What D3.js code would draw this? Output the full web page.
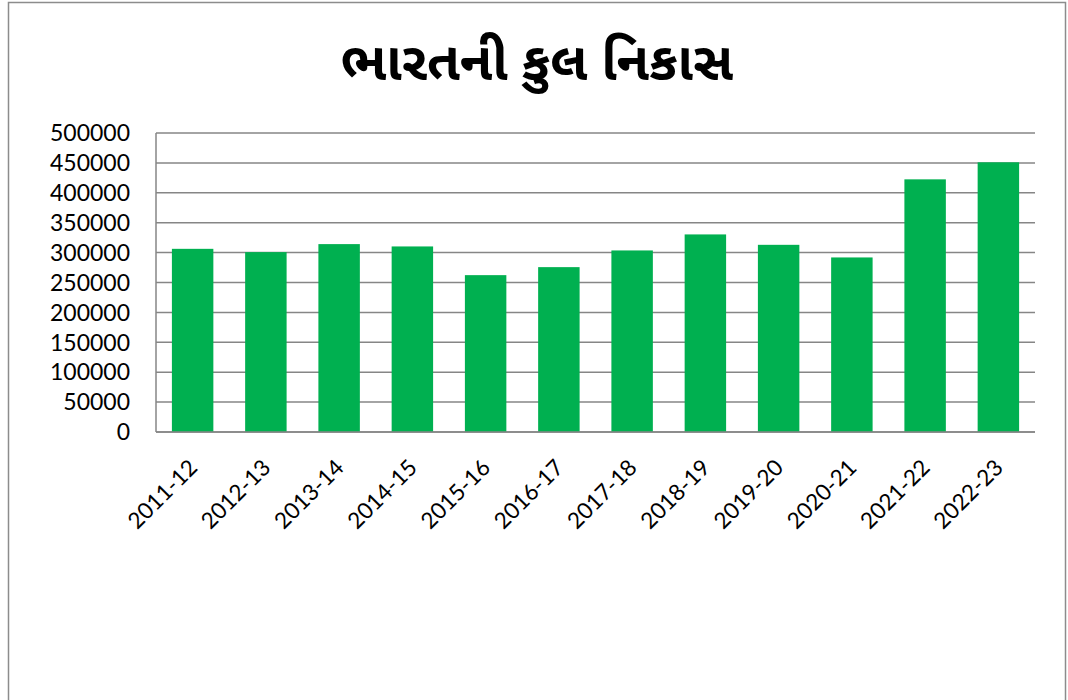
<!DOCTYPE html>
<html>
<head>
<meta charset="utf-8">
<script src="https://cdn.jsdelivr.net/npm/d3@7"></script>
<style>
  body { margin: 0; background: #fff; }
  svg { display: block; }
</style>
</head>
<body>
<svg id="chart" width="1068" height="700"></svg>
<script>
// data
const years = ["2011-12","2012-13","2013-14","2014-15","2015-16","2016-17",
               "2017-18","2018-19","2019-20","2020-21","2021-22","2022-23"];
const exportsTotal = [306300, 300800, 314200, 310300, 262300, 275700,
                      303600, 330400, 313000, 291900, 422500, 451000];
const yTicks = [0,50000,100000,150000,200000,250000,300000,350000,400000,450000,500000];
const title = "ભારતની કુલ નિકાસ";

const svg = d3.select("#chart");
const plotLeft = 156, plotRight = 1035, plotTop = 133, plotBottom = 432;

// outer chart frame
svg.append("rect")
    .attr("x", 8.5).attr("y", 2.5)
    .attr("width", 1057).attr("height", 710)
    .attr("fill", "none").attr("stroke", "#8c8c8c").attr("stroke-width", 1.5);

const x = d3.scaleBand()
    .domain(years)
    .range([plotLeft, plotRight])
    .paddingInner(0.434)
    .paddingOuter(0.217);

const y = d3.scaleLinear()
    .domain([0, 500000])
    .range([plotBottom, plotTop]);

// gridlines
svg.append("g")
    .selectAll("line")
    .data(yTicks)
    .join("line")
    .attr("x1", plotLeft).attr("x2", plotRight)
    .attr("y1", d => y(d)).attr("y2", d => y(d))
    .attr("stroke", "#868686")
    .attr("stroke-width", 1.5);

// bars
svg.append("g")
    .selectAll("rect")
    .data(exportsTotal)
    .join("rect")
    .attr("x", (d, i) => x(years[i]))
    .attr("y", d => y(d))
    .attr("width", x.bandwidth())
    .attr("height", d => y(0) - y(d))
    .attr("fill", "#00b050");

// axis lines
svg.append("line")
    .attr("x1", plotLeft).attr("x2", plotLeft)
    .attr("y1", plotTop).attr("y2", plotBottom)
    .attr("stroke", "#868686").attr("stroke-width", 1.5);
svg.append("line")
    .attr("x1", plotLeft).attr("x2", plotRight)
    .attr("y1", plotBottom).attr("y2", plotBottom)
    .attr("stroke", "#868686").attr("stroke-width", 1.5);

// y labels
svg.append("g")
    .selectAll("text")
    .data(yTicks)
    .join("text")
    .attr("x", 130)
    .attr("y", d => y(d))
    .attr("dy", "0.36em")
    .attr("text-anchor", "end")
    .style("font-family", "Lato, 'Open Sans', sans-serif")
    .style("font-size", "23px")
    .attr("fill", "#000")
    .text(d => d);

// x labels rotated
svg.append("g")
    .selectAll("text")
    .data(years)
    .join("text")
    .attr("transform", d => `translate(${x(d) + x.bandwidth() / 2 + 6},${469}) rotate(-45)`)
    .attr("text-anchor", "end")
    .style("font-family", "Lato, 'Open Sans', sans-serif")
    .style("font-size", "22.5px")
    .attr("fill", "#000")
    .text(d => d);

// title
svg.append("text")
    .attr("x", 537)
    .attr("y", 80)
    .attr("text-anchor", "middle")
    .style("font-family", "'Noto Sans Gujarati', 'Noto Sans', sans-serif")
    .style("font-size", "53px")
    .style("font-weight", "bold")
    .attr("fill", "#000")
    .text(title);
</script>
</body>
</html>
